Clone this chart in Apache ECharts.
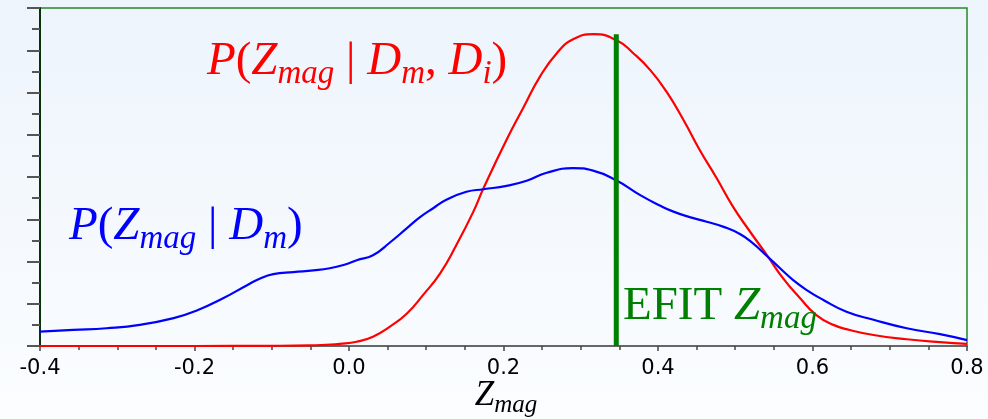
<!DOCTYPE html>
<html><head><meta charset="utf-8">
<script src="https://cdn.jsdelivr.net/npm/echarts@6/dist/echarts.min.js"></script>
<style>html,body{margin:0;padding:0;background:#f5f9fe}#c{width:988px;height:419px}</style>
</head><body><div id="c"></div>
<script>
// x-axis range / ticks
const xMin = -0.4, xMax = 0.8, xStep = 0.2;
const yMin = 0, yMax = 8, yStep = 1;

// P(Z_mag | D_m) (blue)
const blueX = [-0.400,-0.357,-0.314,-0.271,-0.227,-0.197,-0.163,-0.132,-0.115,-0.098,-0.072,-0.046,-0.025,-0.005,0.010,0.031,0.053,0.075,0.092,0.109,0.126,0.152,0.174,0.204,0.230,0.256,0.290,0.316,0.347,0.377,0.403,0.420,0.441,0.463,0.485,0.506,0.523,0.541,0.558,0.575,0.592,0.614,0.644,0.679,0.722,0.765,0.800];
const blueY = [0.34,0.38,0.42,0.50,0.66,0.84,1.13,1.44,1.60,1.70,1.75,1.79,1.84,1.93,2.03,2.15,2.45,2.79,3.05,3.26,3.46,3.65,3.71,3.79,3.91,4.10,4.21,4.15,3.91,3.57,3.32,3.18,3.05,2.94,2.82,2.65,2.43,2.13,1.84,1.56,1.33,1.09,0.81,0.62,0.42,0.28,0.14];

// P(Z_mag | D_m, D_i) (red)
const redX = [-0.400,-0.300,-0.200,-0.100,-0.050,-0.030,-0.012,0.010,0.031,0.053,0.075,0.096,0.118,0.139,0.161,0.174,0.204,0.226,0.247,0.269,0.290,0.317,0.347,0.368,0.390,0.411,0.433,0.454,0.476,0.497,0.519,0.541,0.562,0.584,0.605,0.627,0.648,0.679,0.722,0.765,0.800];
const redY = [0.00,0.00,0.00,0.005,0.015,0.03,0.05,0.10,0.22,0.46,0.77,1.21,1.72,2.39,3.18,3.73,4.88,5.65,6.37,6.93,7.26,7.38,7.23,6.93,6.53,6.02,5.35,4.64,3.97,3.30,2.71,2.15,1.60,1.13,0.73,0.50,0.38,0.26,0.16,0.09,0.05];

// EFIT Z_mag marker
const efitX = [0.346, 0.346];
const efitY = [0, 7.38];

const zip = (a, b) => a.map((v, i) => [v, b[i]]);

const FS = 47, SUB = 33;
function richFor(color, fs, sub, pad) {
  return {
    it:  {fontFamily: 'Liberation Serif', fontStyle: 'italic', fontSize: fs, fill: color, lineHeight: fs + 17},
    up:  {fontFamily: 'Liberation Serif', fontStyle: 'normal', fontSize: fs, fill: color, lineHeight: fs + 17},
    sub: {fontFamily: 'Liberation Serif', fontStyle: 'italic', fontSize: sub, fill: color, lineHeight: 30, padding: [pad, 0, 0, 0]}
  };
}

const chart = echarts.init(document.getElementById('c'), null, {renderer: 'canvas'});
chart.setOption({
  animation: false,
  backgroundColor: {type: 'linear', x: 0, y: 0, x2: 0, y2: 1,
    colorStops: [{offset: 0, color: '#edf4fc'}, {offset: 1, color: '#fbfdff'}]},
  grid: {left: 40, right: 21, top: 8, bottom: 73, outerBoundsMode: 'none', containLabel: false,
    show: true, borderColor: '#228b22', borderWidth: 1.5, backgroundColor: 'transparent'},
  xAxis: {
    type: 'value', min: xMin, max: xMax, interval: xStep,
    axisLine: {show: true, onZero: false, lineStyle: {color: '#666', width: 2}},
    axisTick: {show: true, length: 5, lineStyle: {color: '#444', width: 1.5}},
    minorTick: {show: true, splitNumber: 4, length: 4, lineStyle: {color: '#444', width: 1.5}},
    splitLine: {show: false},
    axisLabel: {formatter: v => v.toFixed(1), fontFamily: 'DejaVu Sans', fontSize: 21, color: '#000', margin: 12, showMinLabel: true, showMaxLabel: true}
  },
  yAxis: {
    type: 'value', min: yMin, max: yMax, interval: yStep,
    axisLine: {show: true, onZero: false, lineStyle: {color: '#0a300a', width: 2}},
    axisTick: {show: true, length: 13, lineStyle: {color: '#555', width: 2}},
    minorTick: {show: true, splitNumber: 2, length: 8, lineStyle: {color: '#555', width: 2}},
    splitLine: {show: false},
    axisLabel: {show: false}
  },
  series: [
    {type: 'line', data: zip(redX, redY), smooth: 0.5, showSymbol: false,
     lineStyle: {color: '#ff0000', width: 2.2}, z: 3},
    {type: 'line', data: zip(blueX, blueY), smooth: 0.5, showSymbol: false,
     lineStyle: {color: '#0000ff', width: 2.2}, z: 4},
    {type: 'line', data: zip(efitX, efitY), showSymbol: false,
     lineStyle: {color: '#008000', width: 5, cap: 'butt'}, z: 5}
  ],
  graphic: [
    {type: 'text', x: 207, y: 62, z: 10, style: {
      text: '{it|P}{up|(}{it|Z}{sub|mag}{up| | }{it|D}{sub|m}{up|, }{it|D}{sub|i}{up|)}',
      rich: richFor('#ff0000', FS, SUB, 24), align: 'left', verticalAlign: 'middle'}},
    {type: 'text', x: 69, y: 227, z: 10, style: {
      text: '{it|P}{up|(}{it|Z}{sub|mag}{up| | }{it|D}{sub|m}{up|)}',
      rich: richFor('#0000ff', FS, SUB, 24), align: 'left', verticalAlign: 'middle'}},
    {type: 'text', x: 623, y: 307, z: 10, style: {
      text: '{up|EFIT }{it|Z}{sub|mag}',
      rich: richFor('#008000', FS, SUB, 24), align: 'left', verticalAlign: 'middle'}},
    {type: 'text', x: 506, y: 396, z: 10, style: {
      text: '{it|Z}{sub|mag}',
      rich: richFor('#000000', 35, 25, 18), align: 'center', verticalAlign: 'middle'}}
  ]
});
</script>
</body></html>
